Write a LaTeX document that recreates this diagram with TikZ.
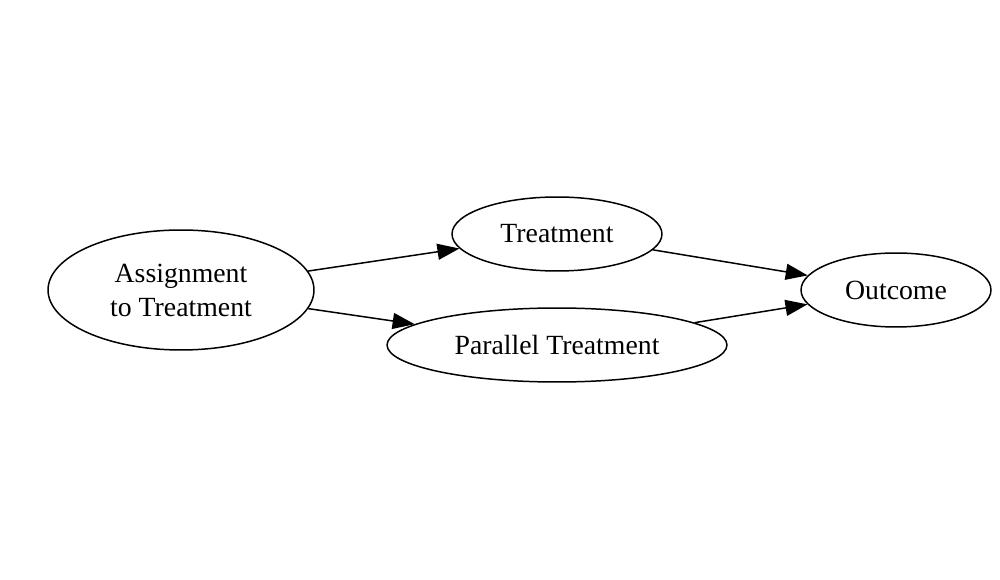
\documentclass[tikz,border=0pt]{standalone}
\usepackage{fontspec}
\setmainfont{Liberation Serif}
\usetikzlibrary{shapes.geometric,arrows.meta}
\begin{document}
\begin{tikzpicture}[x=0.02cm,y=-0.02cm,
  el/.style={draw,ellipse,inner sep=0pt,line width=0.85pt,font=\fontsize{15.8}{19.3}\selectfont,align=center},
  edge/.style={line width=0.85pt,-{Triangle[length=0.44cm,width=0.32cm]}}]
\useasboundingbox (0,0) rectangle (1000,580);
\node[el,minimum width=5.32cm,minimum height=2.4cm] (a) at (181,290) {Assignment\\to Treatment};
\node[el,minimum width=4.2cm,minimum height=1.48cm] (t) at (557,234) {Treatment};
\node[el,minimum width=6.8cm,minimum height=1.48cm] (p) at (557,345) {Parallel Treatment};
\node[el,minimum width=3.8cm,minimum height=1.48cm] (o) at (896,290) {Outcome};
\draw[edge] (a) -- (t);
\draw[edge] (a) -- (p);
\draw[edge] (t) -- (o);
\draw[edge] (p) -- (o);
\end{tikzpicture}
\end{document}
